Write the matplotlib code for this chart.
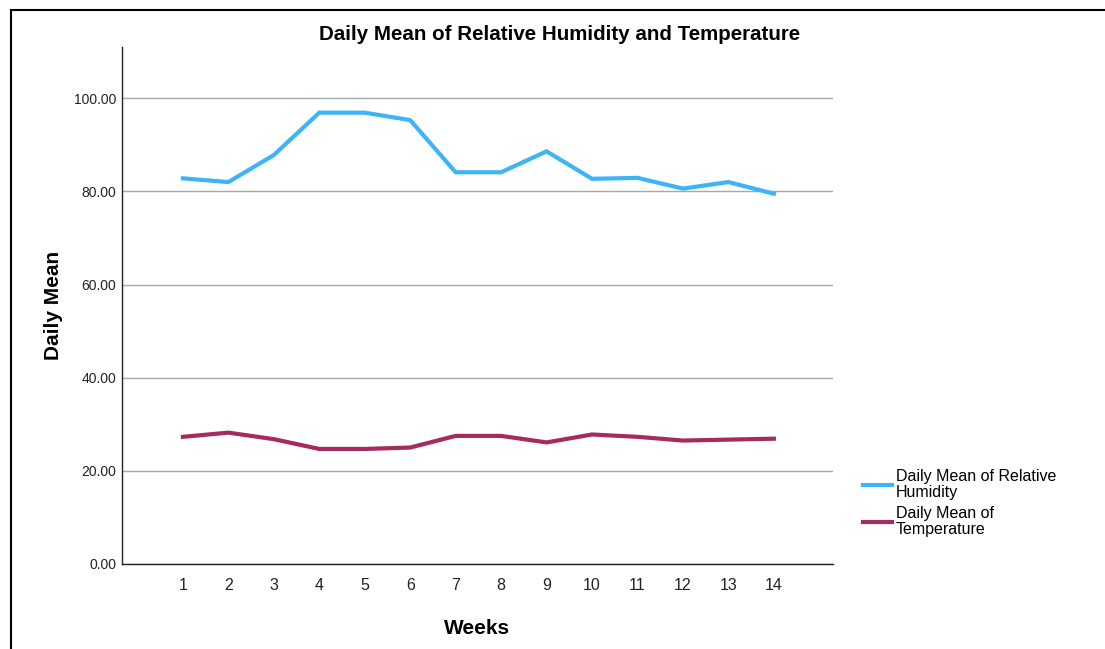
import matplotlib.pyplot as plt
from matplotlib.patches import Rectangle

# Weekly daily means
weeks = list(range(1, 15))
humidity = [82.8, 82.0, 87.8, 96.9, 96.9, 95.3, 84.1, 84.1, 88.6, 82.7, 82.9, 80.6, 82.0, 79.5]
temperature = [27.3, 28.2, 26.8, 24.7, 24.7, 25.0, 27.5, 27.5, 26.1, 27.8, 27.3, 26.5, 26.7, 26.9]
y_ticks = [0, 20, 40, 60, 80, 100]
series_labels = ["Daily Mean of Relative\nHumidity", "Daily Mean of\nTemperature"]

plt.rcParams["font.family"] = ["Liberation Sans", "DejaVu Sans"]

fig = plt.figure(figsize=(11.05, 6.49), dpi=100)
ax = fig.add_axes([0.1104, 0.131, 0.6434, 0.7966])

# outer frame, cut off at right and bottom like the screenshot
fig.patches.append(Rectangle((11 / 1105, -0.1), 1.2, 1 - 10 / 649 + 0.1,
                             transform=fig.transFigure, fill=False,
                             edgecolor="black", linewidth=1.5))

ax.plot(weeks, humidity, color="#3DB4FA", linewidth=3, label=series_labels[0],
        solid_joinstyle="miter")
ax.plot(weeks, temperature, color="#A52A5E", linewidth=3, label=series_labels[1],
        solid_joinstyle="miter")

ax.set_xlim(-0.34, 15.3)
ax.set_ylim(0, 111)
ax.set_yticks(y_ticks)
ax.set_yticklabels([f"{v:.2f}" for v in y_ticks], fontsize=10, color="#222222")
ax.set_xticks(weeks)
ax.set_xticklabels([str(w) for w in weeks], fontsize=11.5, color="#222222")
ax.tick_params(axis="both", length=0)
ax.tick_params(axis="x", pad=10)
ax.tick_params(axis="y", pad=4)
ax.grid(axis="y", color="#A8A8A8", linewidth=1)
ax.set_axisbelow(True)

for side in ["top", "right"]:
    ax.spines[side].set_visible(False)
for side in ["left", "bottom"]:
    ax.spines[side].set_color("#222222")
    ax.spines[side].set_linewidth(1)

ax.set_title("Daily Mean of Relative Humidity and Temperature",
             fontsize=14.8, fontweight="bold", pad=5)
ax.title.set_position((0.616, 1.0))
ax.set_xlabel("Weeks", fontsize=15, fontweight="bold", labelpad=19)
ax.set_ylabel("Daily Mean", fontsize=15, fontweight="bold", labelpad=8)

leg = fig.legend(loc="upper left", bbox_to_anchor=(0.775, 0.287), frameon=False,
                 fontsize=11.5, handlelength=1.8, handletextpad=0.25,
                 labelspacing=0.35, borderaxespad=0)
for t in leg.get_texts():
    t.set_linespacing(1.1)

fig.savefig("out.png", dpi=100)
